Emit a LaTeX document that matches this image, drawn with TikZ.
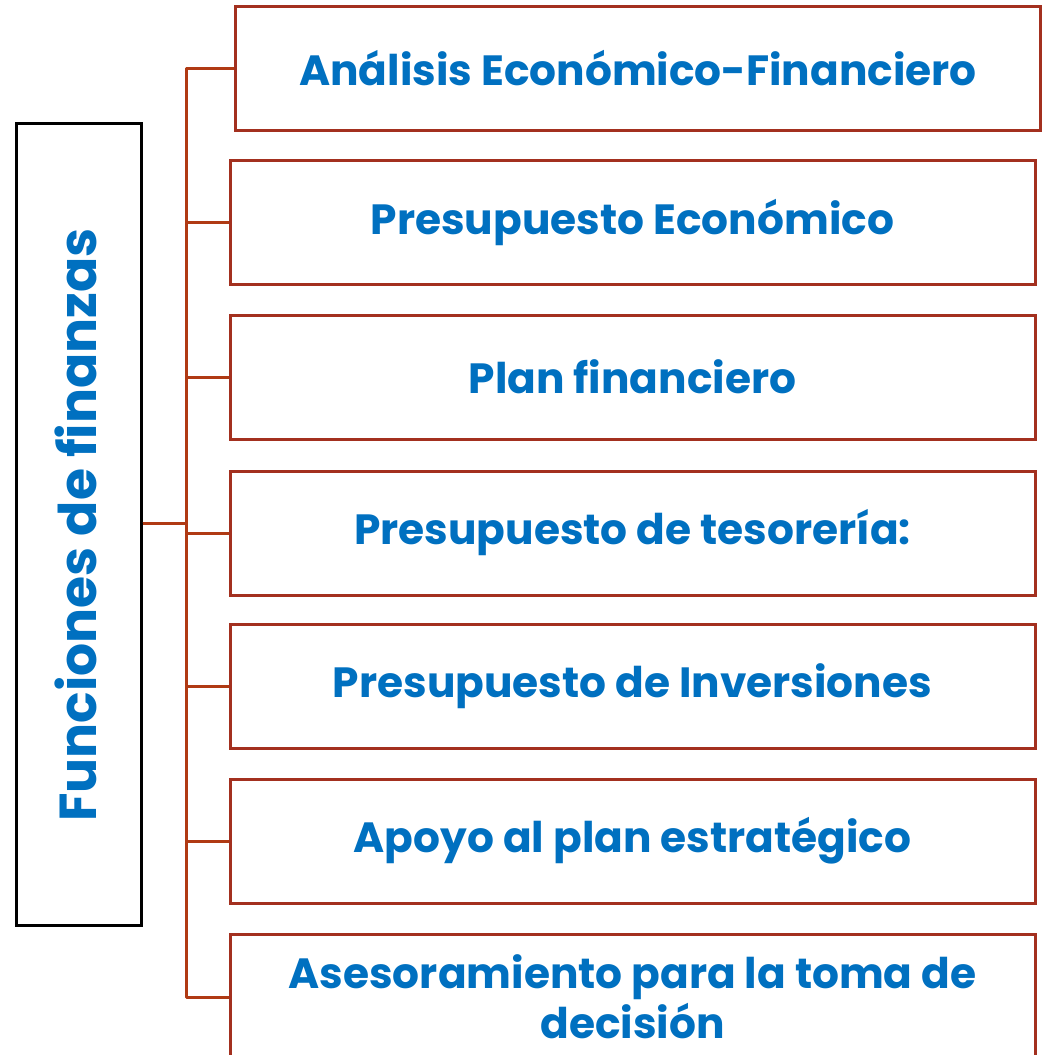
\documentclass[tikz,border=0pt]{standalone}
\usepackage{fontspec}
\setmainfont{Poppins}[BoldFont={Poppins Bold}]
\definecolor{txtblue}{HTML}{0070C0}
\definecolor{boxred}{HTML}{A3301F}
\definecolor{linered}{HTML}{B03A14}
\begin{document}
\begin{tikzpicture}[x=1pt,y=-1pt,
  fbox/.style={draw=boxred,line width=3pt,minimum width=805pt,minimum height=124pt,
    inner sep=0pt,align=center,text=txtblue,font=\fontsize{42.3}{50}\selectfont\bfseries},
  conn/.style={draw=linered,line width=3pt}]
\useasboundingbox (0,0) rectangle (1043,1055);
\node[draw=black,line width=3pt,minimum width=125pt,minimum height=802pt,inner sep=0pt]
  (root) at (78.5,524) {};
\node[text=txtblue,font=\fontsize{52}{56}\selectfont\bfseries,rotate=90] (roottxt) at (76,525) {Funciones de finanzas};
\node[fbox] (b1) at (638,68) {Análisis Económico-Financiero};
\node[fbox] (b2) at (632.5,222) {Presupuesto Económico};
\node[fbox] (b3) at (632.5,377) {Plan financiero};
\node[fbox] (b4) at (632.5,533) {Presupuesto de tesorería:};
\node[fbox] (b5) at (632.5,686) {Presupuesto de Inversiones};
\node[fbox] (b6) at (632.5,841) {Apoyo al plan estratégico};
\node[fbox,minimum height=126pt] (b7) at (632.5,997) {Asesoramiento para la toma de\\decisión};
\coordinate (j) at (186,523);
\foreach \b in {b1,b2,b3,b4,b5,b6,b7}{
  \draw[conn,line join=round] (root.east |- j) -- (j) |- (\b.west);
}
\end{tikzpicture}
\end{document}
